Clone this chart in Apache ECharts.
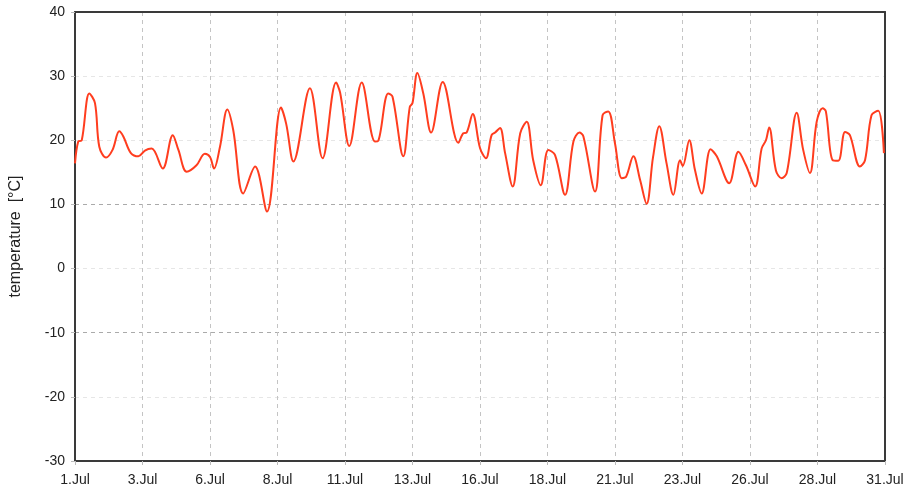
<!DOCTYPE html>
<html>
<head>
<meta charset="utf-8">
<script src="https://cdn.jsdelivr.net/npm/echarts@6/dist/echarts.min.js"></script>
<style>html,body{margin:0;padding:0;background:#fff}#c{width:917px;height:499px}</style>
</head>
<body>
<div id="c"></div>
<script>
// time in days since 1.Jul 00:00
const days = [0.00,0.12,0.25,0.53,0.74,0.90,1.15,1.39,1.64,1.79,2.07,2.35,2.59,2.84,3.25,3.62,3.83,4.14,4.50,4.81,5.00,5.15,5.37,5.64,5.86,6.23,6.67,7.11,7.63,7.82,8.09,8.70,9.17,9.67,9.82,10.16,10.62,11.11,11.23,11.60,11.76,12.16,12.40,12.50,12.68,12.90,13.19,13.62,14.20,14.38,14.50,14.73,15.00,15.22,15.43,15.56,15.74,15.93,16.21,16.49,16.73,16.97,17.25,17.53,17.78,18.15,18.46,18.68,18.83,19.26,19.54,19.75,20.00,20.25,20.41,20.68,20.93,21.17,21.41,21.64,21.91,22.16,22.41,22.51,22.75,22.96,23.21,23.54,23.77,24.23,24.57,24.85,25.19,25.43,25.59,25.71,25.96,26.17,26.36,26.73,26.97,27.22,27.47,27.69,27.81,28.06,28.27,28.52,28.70,29.07,29.26,29.50,29.75,29.96];
const temperature = [16.4,19.8,20.0,27.3,25.8,19.0,17.3,18.5,21.4,20.6,18.0,17.5,18.4,18.7,15.6,20.8,18.5,15.1,16.1,17.9,17.4,15.6,19.0,24.8,21.6,11.7,15.9,8.9,25.1,22.6,16.7,28.1,17.2,29.0,27.4,19.1,29.0,19.8,19.9,27.3,26.8,17.5,25.2,25.8,30.5,27.3,21.2,29.1,19.6,21.1,21.2,24.1,18.8,17.2,20.8,21.2,21.9,18.0,12.8,21.1,22.9,16.9,13.0,18.5,17.7,11.5,19.8,21.2,20.6,12.0,23.9,24.5,19.5,14.1,14.3,17.5,13.8,10.1,17.4,22.2,16.4,11.5,16.9,16.0,20.0,15.4,11.7,18.6,17.5,13.3,18.2,16.1,12.8,18.7,20.0,22.0,15.3,14.1,14.9,24.3,18.5,14.9,22.9,25.0,24.5,16.9,16.8,21.3,20.8,15.9,16.9,23.9,24.6,18.0];
const yTicks = [-30,-20,-10,0,10,20,30,40];
const monthLabel = 'Jul';
const yName = 'temperature  [°C]';

const chart = echarts.init(document.getElementById('c'), null, {renderer: 'canvas'});
const labelFont = "'Liberation Sans',Arial,sans-serif";
chart.setOption({
  animation: false,
  backgroundColor: '#fff',
  grid: {left: 75, right: 32, top: 12, bottom: 38, show: false},
  xAxis: [{
    type: 'value', min: 0, max: 30, interval: 2.5,
    axisLine: {show: true, onZero: false, lineStyle: {color: '#3a3a3a', width: 2}},
    axisTick: {show: true, length: 4, inside: false, lineStyle: {color: '#bbb'}},
    axisLabel: {margin: 12, color: '#222', fontSize: 14, fontFamily: labelFont,
      showMaxLabel: true, showMinLabel: true,
      formatter: v => (Math.floor(v) + 1) + '.' + monthLabel},
    splitLine: {show: true, showMinLine: false, showMaxLine: false, lineStyle: {color: '#c4c4c4', type: [4, 4], width: 1}}
  }, {
    type: 'value', min: 0, max: 30, position: 'top',
    axisLine: {show: true, onZero: false, lineStyle: {color: '#3a3a3a', width: 2}},
    axisTick: {show: false}, axisLabel: {show: false}, splitLine: {show: false}
  }],
  yAxis: [{
    type: 'value', min: yTicks[0], max: yTicks[yTicks.length - 1], interval: 10,
    name: yName, nameLocation: 'middle', nameGap: 51, nameRotate: 90,
    nameTextStyle: {color: '#222', fontSize: 16, fontFamily: labelFont},
    axisLine: {show: true, onZero: false, lineStyle: {color: '#3a3a3a', width: 2}},
    axisTick: {show: true, length: 4, lineStyle: {color: '#bbb'}},
    axisLabel: {margin: 10, color: '#222', fontSize: 14, fontFamily: labelFont},
    splitLine: {show: true, showMinLine: false, showMaxLine: false, lineStyle: {color: ['#e6e6e6', '#aaa', '#e6e6e6', '#aaa', '#e6e6e6', '#e6e6e6'], type: [4, 4], width: 1}}
  }, {
    type: 'value', min: yTicks[0], max: yTicks[yTicks.length - 1], position: 'right',
    axisLine: {show: true, onZero: false, lineStyle: {color: '#3a3a3a', width: 2}},
    axisTick: {show: false}, axisLabel: {show: false}, splitLine: {show: false}
  }],
  series: [{
    type: 'line',
    data: days.map((d, i) => [d, temperature[i]]),
    showSymbol: false,
    smooth: 0.35,
    lineStyle: {color: '#ff3d1f', width: 2},
    z: 5
  }]
});
</script>
</body>
</html>
